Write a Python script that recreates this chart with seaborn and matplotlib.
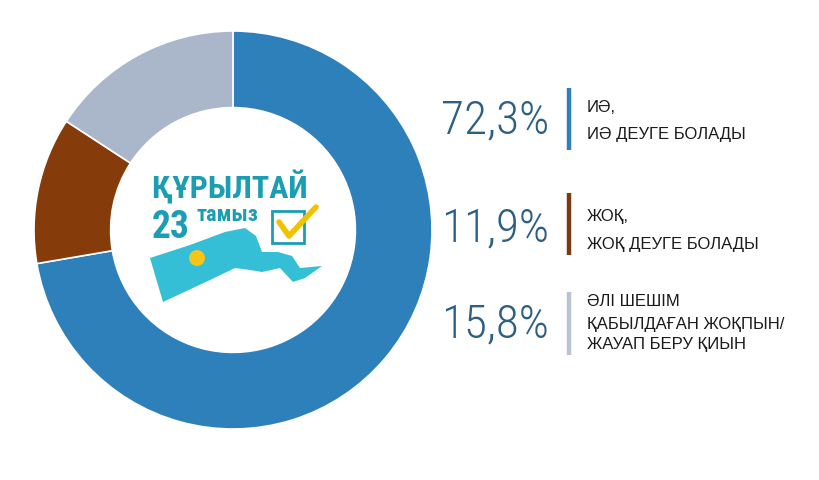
import matplotlib
matplotlib.use('Agg')
import matplotlib.pyplot as plt
import seaborn as sns
from matplotlib import font_manager
from matplotlib.patches import Polygon, Rectangle, Circle

# survey answers (Kazakh), share in %
VALUES = [72.3, 11.9, 15.8]
COLORS = ['#2e80ba', '#853c0a', '#aab7cb']
BAR_COLORS = ['#2e80ba', '#7a3a10', '#b9c3d3']
LABELS = [
    ['ИӘ,', 'ИӘ ДЕУГЕ БОЛАДЫ'],
    ['ЖОҚ,', 'ЖОҚ ДЕУГЕ БОЛАДЫ'],
    ['ӘЛІ ШЕШІМ', 'ҚАБЫЛДАҒАН ЖОҚПЫН/', 'ЖАУАП БЕРУ ҚИЫН'],
]
LOGO_TITLE = 'ҚҰРЫЛТАЙ'
LOGO_DAY = '23'
LOGO_MONTH = 'тамыз'

NUM_COLOR = '#2d5f82'
LOGO_TEAL = '#1b9db3'

sns.set_theme(style='white')

installed = {f.name for f in font_manager.fontManager.ttflist}
cond = [f for f in ['Roboto Condensed', 'Liberation Sans Narrow', 'DejaVu Sans Condensed']
        if f in installed]
COND_FONT = cond + ['DejaVu Sans']
plt.rcParams['font.family'] = ['Liberation Sans', 'DejaVu Sans']

fig = plt.figure(figsize=(8.2, 4.8), dpi=100)

# donut
ax = fig.add_axes([34 / 820, 51 / 480, 398 / 820, 398 / 480])
ax.pie(VALUES, colors=COLORS, startangle=90, counterclock=False, radius=1,
       wedgeprops=dict(width=0.385, edgecolor='white', linewidth=1.2))
ax.set_xlim(-1, 1)
ax.set_ylim(-1, 1)
ax.set_aspect('auto')
ax.axis('off')

# overlay in pixel-like coordinates for labels and the logo
ov = fig.add_axes([0, 0, 1, 1])
ov.set_xlim(0, 820)
ov.set_ylim(480, 0)
ov.axis('off')
ov.patch.set_alpha(0)

rows_y = [120, 229, 325]
bar_spans = [(88, 150), (193, 255), (292, 355)]
for i, v in enumerate(VALUES):
    num = f'{v:.1f}%'.replace('.', ',')
    ov.text(549, rows_y[i], num, ha='right', va='center', color=NUM_COLOR,
            fontsize=34, family=COND_FONT, fontweight='light')
    ov.plot([569, 569], bar_spans[i], color=BAR_COLORS[i], lw=3.2,
            solid_capstyle='butt')
    lines = LABELS[i]
    if len(lines) == 2:
        ys = [rows_y[i] - 12, rows_y[i] + 15]
    else:
        ys = [rows_y[i] - 23, rows_y[i] - 1, rows_y[i] + 19]
    for y, t in zip(ys, lines):
        ov.text(587, y, t, ha='left', va='center', color='#1a1a1a', fontsize=12)

# logo in the middle of the donut
ov.text(230, 187, LOGO_TITLE, ha='center', va='center', color=LOGO_TEAL,
        fontsize=23, fontweight='bold', family=COND_FONT)
ov.text(171, 228, LOGO_DAY, ha='center', va='center', color=LOGO_TEAL,
        fontsize=27, fontweight='bold', family=COND_FONT)
ov.text(227, 215, LOGO_MONTH, ha='center', va='center', color=LOGO_TEAL,
        fontsize=16, fontweight='bold', family=COND_FONT)
ov.add_patch(Rectangle((272, 211), 32, 32, fill=False, edgecolor=LOGO_TEAL, lw=2))
ov.plot([279, 289, 316], [222, 236, 207], color='#f2c200', lw=4,
        solid_capstyle='round', solid_joinstyle='round')
ribbon = [(150, 258), (190, 245), (225, 232), (245, 228), (256, 236),
          (262, 252), (278, 252), (292, 256), (300, 268), (322, 266),
          (305, 278), (293, 282), (280, 268), (262, 272), (250, 270),
          (235, 268), (210, 280), (163, 302)]
ov.add_patch(Polygon(ribbon, closed=True, facecolor='#35bfd6', edgecolor='none'))
ov.add_patch(Circle((197, 258), 8, facecolor='#f5c518', edgecolor='none'))

fig.savefig('out.png', dpi=100)
